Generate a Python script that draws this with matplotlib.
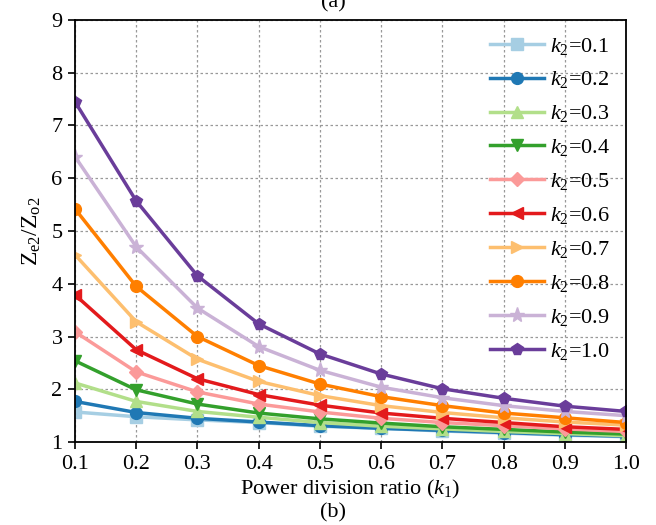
import matplotlib
matplotlib.use("Agg")
import matplotlib.pyplot as plt
import numpy as np

plt.rcParams['font.family'] = ['Liberation Serif', 'DejaVu Serif']
plt.rcParams['mathtext.fontset'] = 'custom'
plt.rcParams['mathtext.rm'] = 'Liberation Serif'
plt.rcParams['mathtext.it'] = 'Liberation Serif:italic'

k1 = [0.1, 0.2, 0.3, 0.4, 0.5, 0.6, 0.7, 0.8, 0.9, 1.0]
k2_labels = ['0.1', '0.2', '0.3', '0.4', '0.5', '0.6', '0.7', '0.8', '0.9', '1.0']

z_k01 = [1.57, 1.48, 1.42, 1.37, 1.30, 1.26, 1.21, 1.17, 1.13, 1.10]
z_k02 = [1.77, 1.56, 1.45, 1.38, 1.31, 1.26, 1.22, 1.18, 1.14, 1.11]
z_k03 = [2.12, 1.77, 1.58, 1.47, 1.37, 1.30, 1.25, 1.20, 1.16, 1.12]
z_k04 = [2.54, 1.99, 1.72, 1.55, 1.44, 1.36, 1.29, 1.24, 1.19, 1.15]
z_k05 = [3.09, 2.33, 1.95, 1.72, 1.57, 1.45, 1.37, 1.31, 1.25, 1.20]
z_k06 = [3.79, 2.75, 2.20, 1.90, 1.70, 1.55, 1.45, 1.37, 1.29, 1.24]
z_k07 = [4.55, 3.28, 2.57, 2.15, 1.88, 1.69, 1.56, 1.46, 1.38, 1.32]
z_k08 = [5.42, 3.95, 3.00, 2.45, 2.10, 1.86, 1.69, 1.55, 1.46, 1.37]
z_k09 = [6.41, 4.70, 3.54, 2.81, 2.36, 2.04, 1.84, 1.69, 1.58, 1.50]
z_k10 = [7.45, 5.57, 4.15, 3.24, 2.67, 2.29, 2.01, 1.83, 1.68, 1.58]

series = [z_k01, z_k02, z_k03, z_k04, z_k05, z_k06, z_k07, z_k08, z_k09, z_k10]
markers = ['s', 'o', '^', 'v', 'D', '<', '>', 'o', '*', 'p']
colors = plt.get_cmap('Paired').colors[:10]

fig = plt.figure(figsize=(6.56, 5.25), dpi=100)
ax = fig.add_axes([0.1143, 0.158, 0.840, 0.804])

for ys, m, c, lab in zip(series, markers, colors, k2_labels):
    ms = 8.5
    if m == 'D':
        ms = 7
    if m == '*':
        ms = 11
    ax.plot(k1, ys, marker=m, color=c, lw=2.5, ms=ms,
            label=r'$k_2$=' + lab)

ax.set_xlim(0.1, 1.0)
ax.set_ylim(1, 9)
ax.set_xticks(k1)
ax.set_xticklabels([f'{v:.1f}' for v in k1])
ax.set_yticks(range(1, 10))
ax.grid(True, ls=(0, (2, 2)), color='#999999', lw=0.9)
ax.tick_params(labelsize=16, direction='out', length=5, width=1.2, pad=4)
for s in ax.spines.values():
    s.set_linewidth(1.3)
ax.set_xlabel(r'Power division ratio ($k_1$)', fontsize=16, labelpad=3)
ax.set_ylabel(r'Z$_{\mathrm{e2}}$/Z$_{\mathrm{o2}}$', fontsize=17, labelpad=6)

leg = ax.legend(loc='upper right', frameon=False, fontsize=16,
                handlelength=2.4, labelspacing=0.58, handletextpad=0.3,
                borderaxespad=0.3)

fig.text(0.508, 0.995, '(a)', fontsize=16, ha='center', va='center')
fig.text(0.508, 0.024, '(b)', fontsize=16, ha='center', va='center')

fig.savefig('out.png', dpi=100)
